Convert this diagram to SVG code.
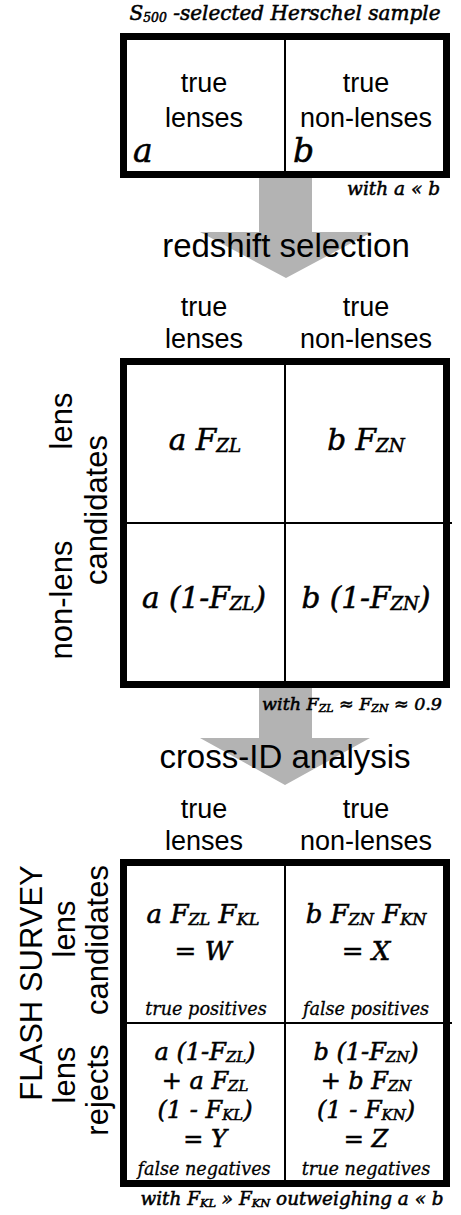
<svg xmlns="http://www.w3.org/2000/svg" width="461" height="1215" viewBox="0 0 461 1215">
<style>
.sans{font-family:"Liberation Sans",Arial,sans-serif;fill:#000}
.ser{font-family:"DejaVu Serif","Liberation Serif",serif;font-style:italic;fill:#000;stroke:#000;stroke-width:0.55}
.lt{stroke-width:0.3}
.hdr{font-size:27px}
.big{font-size:33px}
.side{font-size:31px}
.frame{fill:#fff;stroke:#000;stroke-width:7}
.div{stroke:#000;stroke-width:2}
.arrow{fill:#b3b3b3}
.sub{font-size:0.62em}
</style>
<rect width="461" height="1215" fill="#fff"/>
<g id="connectors">
<polygon class="arrow" points="259,176 312,176 312,232 372,232 286,278 200,232 259,232"/>
<polygon class="arrow" points="259,686 312,686 312,738 370,738 285,785 200,738 259,738"/>
</g>
<g id="title">
<text class="ser" x="285" y="20" font-size="20" text-anchor="middle">S<tspan class="sub" dy="2">500</tspan><tspan dy="-2"> -selected Herschel sample</tspan></text>
</g>
<g id="sample">
<rect class="frame" x="123.5" y="36.5" width="323" height="138"/>
<line class="div" x1="285" y1="33" x2="285" y2="178"/>
<text class="sans hdr" x="204" y="92" text-anchor="middle">true</text>
<text class="sans hdr" x="204" y="127" text-anchor="middle">lenses</text>
<text class="sans hdr" x="366" y="92" text-anchor="middle">true</text>
<text class="sans hdr" x="366" y="127" text-anchor="middle">non-lenses</text>
<text class="ser" x="133" y="162" font-size="33">a</text>
<text class="ser" x="293" y="162" font-size="33">b</text>
<text class="ser" x="440" y="195" font-size="18.5" text-anchor="end">with a « b</text>
</g>
<g id="redshift-label">
<text class="sans big" x="286" y="257" text-anchor="middle">redshift selection</text>
</g>
<g id="redshift-matrix">
<text class="sans hdr" x="204" y="316" text-anchor="middle">true</text>
<text class="sans hdr" x="204" y="348" text-anchor="middle">lenses</text>
<text class="sans hdr" x="366" y="316" text-anchor="middle">true</text>
<text class="sans hdr" x="366" y="348" text-anchor="middle">non-lenses</text>
<text class="sans side" transform="translate(72,421) rotate(-90)" text-anchor="middle">lens</text>
<text class="sans side" transform="translate(72,600) rotate(-90)" text-anchor="middle">non-lens</text>
<text class="sans side" transform="translate(107,510) rotate(-90)" text-anchor="middle">candidates</text>
<rect class="frame" x="123.5" y="361.5" width="323" height="323"/>
<line class="div" x1="285" y1="358" x2="285" y2="688"/>
<line class="div" x1="120" y1="523" x2="452" y2="523"/>
<text class="ser" x="205" y="450" font-size="29.5" text-anchor="middle">a F<tspan class="sub" dy="2">ZL</tspan></text>
<text class="ser" x="366" y="450" font-size="29.5" text-anchor="middle">b F<tspan class="sub" dy="2">ZN</tspan></text>
<text class="ser" x="204" y="608" font-size="29.5" text-anchor="middle">a (1-F<tspan class="sub" dy="2">ZL</tspan><tspan dy="-2">)</tspan></text>
<text class="ser" x="366" y="608" font-size="29.5" text-anchor="middle">b (1-F<tspan class="sub" dy="2">ZN</tspan><tspan dy="-2">)</tspan></text>
<text class="ser" x="442" y="710" font-size="17.5" text-anchor="end">with F<tspan class="sub" dy="2">ZL</tspan><tspan dy="-2"> ≈ F</tspan><tspan class="sub" dy="2">ZN</tspan><tspan dy="-2"> ≈ 0.9</tspan></text>
</g>
<g id="crossid-label">
<text class="sans big" x="285" y="768" text-anchor="middle">cross-ID analysis</text>
</g>
<g id="flash-matrix">
<text class="sans hdr" x="204" y="818" text-anchor="middle">true</text>
<text class="sans hdr" x="204" y="850" text-anchor="middle">lenses</text>
<text class="sans hdr" x="366" y="818" text-anchor="middle">true</text>
<text class="sans hdr" x="366" y="850" text-anchor="middle">non-lenses</text>
<text class="sans side" transform="translate(42,983) rotate(-90)" text-anchor="middle">FLASH SURVEY</text>
<text class="sans side" transform="translate(75,929) rotate(-90)" text-anchor="middle">lens</text>
<text class="sans side" transform="translate(75,1075) rotate(-90)" text-anchor="middle">lens</text>
<text class="sans side" transform="translate(108,940) rotate(-90)" text-anchor="middle">candidates</text>
<text class="sans side" transform="translate(108,1090) rotate(-90)" text-anchor="middle">rejects</text>
<rect class="frame" x="123.5" y="862.5" width="323" height="321"/>
<line class="div" x1="285" y1="859" x2="285" y2="1187"/>
<line class="div" x1="120" y1="1023" x2="452" y2="1023"/>
<text class="ser" x="203" y="923" font-size="26" text-anchor="middle">a F<tspan class="sub" dy="2">ZL</tspan><tspan dy="-2"> F</tspan><tspan class="sub" dy="2">KL</tspan></text>
<text class="ser" x="203" y="960" font-size="26" text-anchor="middle">= W</text>
<text class="ser lt" x="206" y="1015" font-size="17.6" text-anchor="middle">true positives</text>
<text class="ser" x="366" y="923" font-size="26" text-anchor="middle">b F<tspan class="sub" dy="2">ZN</tspan><tspan dy="-2"> F</tspan><tspan class="sub" dy="2">KN</tspan></text>
<text class="ser" x="366" y="960" font-size="26" text-anchor="middle">= X</text>
<text class="ser lt" x="366" y="1015" font-size="17.6" text-anchor="middle">false positives</text>
<text class="ser" x="205" y="1060" font-size="24" text-anchor="middle">a (1-F<tspan class="sub" dy="2">ZL</tspan><tspan dy="-2">)</tspan></text>
<text class="ser" x="205" y="1089" font-size="24" text-anchor="middle">+ a F<tspan class="sub" dy="2">ZL</tspan></text>
<text class="ser" x="205" y="1118" font-size="24" text-anchor="middle">(1 - F<tspan class="sub" dy="2">KL</tspan><tspan dy="-2">)</tspan></text>
<text class="ser" x="205" y="1147" font-size="24" text-anchor="middle">= Y</text>
<text class="ser lt" x="204" y="1175" font-size="17.6" text-anchor="middle">false negatives</text>
<text class="ser" x="366" y="1060" font-size="24" text-anchor="middle">b (1-F<tspan class="sub" dy="2">ZN</tspan><tspan dy="-2">)</tspan></text>
<text class="ser" x="366" y="1089" font-size="24" text-anchor="middle">+ b F<tspan class="sub" dy="2">ZN</tspan></text>
<text class="ser" x="366" y="1118" font-size="24" text-anchor="middle">(1 - F<tspan class="sub" dy="2">KN</tspan><tspan dy="-2">)</tspan></text>
<text class="ser" x="366" y="1147" font-size="24" text-anchor="middle">= Z</text>
<text class="ser lt" x="366" y="1175" font-size="17.6" text-anchor="middle">true negatives</text>
<text class="ser" x="292" y="1205" font-size="18.4" text-anchor="middle">with F<tspan class="sub" dy="2">KL</tspan><tspan dy="-2"> » F</tspan><tspan class="sub" dy="2">KN</tspan><tspan dy="-2"> outweighing a « b</tspan></text>
</g>
</svg>
